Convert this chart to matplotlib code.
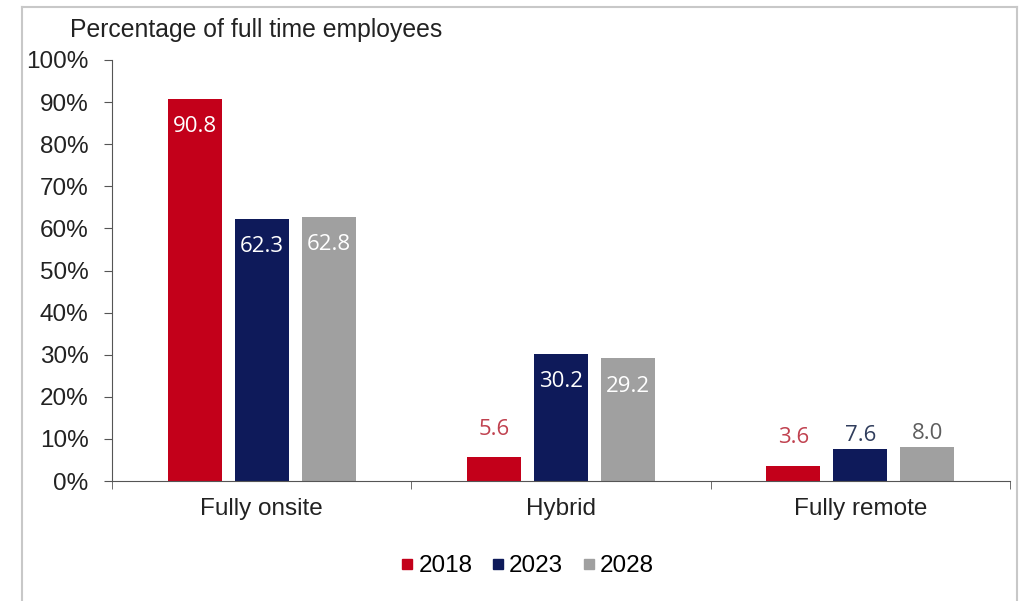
import numpy as np
import matplotlib.pyplot as plt
from matplotlib.lines import Line2D

# data
categories = ['Fully onsite', 'Hybrid', 'Fully remote']
years = ['2018', '2023', '2028']
v2018 = [90.8, 5.6, 3.6]
v2023 = [62.3, 30.2, 7.6]
v2028 = [62.8, 29.2, 8.0]
y_ticks = [0, 10, 20, 30, 40, 50, 60, 70, 80, 90, 100]

colors = ['#C3001A', '#0E1A5A', '#A0A0A0']
out_colors = ['#C0414F', '#303D5C', '#5E5E5E']
out_offset = [28, 14, 14]   # px above bar for small values

plt.rcParams['font.family'] = ['Liberation Sans', 'DejaVu Sans']

fig = plt.figure(figsize=(10.22, 6.01), dpi=100)
ax = fig.add_axes([112 / 1022, 1 - 481 / 601, (1010 - 112) / 1022, (481 - 60) / 601])

x = np.arange(len(categories))
step = 0.224
width = 0.18
series = [v2018, v2023, v2028]
lab_font = ['Open Sans', 'DejaVu Sans']

for i, vals in enumerate(series):
    pos = x + (i - 1) * step
    ax.bar(pos, vals, width, color=colors[i], label=years[i])
    for p, v in zip(pos, vals):
        if v > 20:
            ax.annotate(f'{v:.1f}', (p, v), xytext=(0, -28), textcoords='offset pixels',
                        ha='center', va='center', color='white', fontsize=16,
                        family=lab_font)
        else:
            ax.annotate(f'{v:.1f}', (p, v), xytext=(0, out_offset[i]), textcoords='offset pixels',
                        ha='center', va='center', color=out_colors[i], fontsize=16,
                        family=lab_font)

ax.set_xlim(-0.5, 2.5)
ax.set_ylim(0, 100)
ax.set_yticks(y_ticks)
ax.set_yticklabels([f'{t}%' for t in y_ticks], fontsize=17.5, color='#222222')
ax.set_xticks(x)
ax.set_xticklabels(categories, fontsize=17.5, color='#222222')
ax.set_xticks([-0.5, 0.5, 1.5, 2.5], minor=True)
ax.tick_params(axis='x', which='major', length=0, pad=12)
ax.tick_params(axis='x', which='minor', length=6, direction='out', color='#555555')
ax.tick_params(axis='y', length=6, direction='out', color='#555555', pad=11)

for s in ['top', 'right']:
    ax.spines[s].set_visible(False)
ax.spines['left'].set_color('#555555')
ax.spines['bottom'].set_color('#555555')

fig.text(70 / 1022, 1 - 30 / 601, 'Percentage of full time employees', fontsize=17.8,
         color='#222222', ha='left', va='center')

handles = [Line2D([], [], marker='s', linestyle='none', markersize=7.5, color=c) for c in colors]
fig.legend(handles, years, loc='center', bbox_to_anchor=(525 / 1022, 1 - 566 / 601),
           ncol=3, frameon=False, fontsize=17.5, handletextpad=0.0, columnspacing=0.6,
           handlelength=0.9)

# outer frame
fc = '#C8C8C8'
fig.add_artist(Line2D([22 / 1022, 22 / 1022], [0, 1 - 7 / 601], color=fc, lw=1.5, transform=fig.transFigure))
fig.add_artist(Line2D([22 / 1022, 1017 / 1022], [1 - 7 / 601, 1 - 7 / 601], color=fc, lw=1.5, transform=fig.transFigure))
fig.add_artist(Line2D([1017 / 1022, 1017 / 1022], [0, 1 - 7 / 601], color=fc, lw=1.5, transform=fig.transFigure))

fig.savefig('out.png', dpi=100)
